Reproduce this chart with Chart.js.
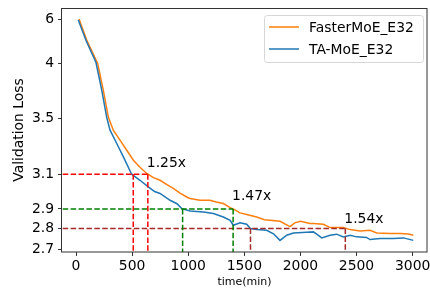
<!DOCTYPE html>
<html>
<head>
<meta charset="utf-8">
<script src="https://cdn.jsdelivr.net/npm/chart.js"></script>
<style>
  html, body { margin: 0; padding: 0; background: #fff; }
</style>
</head>
<body>
<canvas id="grafico" width="430" height="288"></canvas>
<script>
// datos
const fasterTime = [27, 95, 193, 243, 288, 332, 392, 452, 511, 570, 630, 690, 749, 810, 867, 930, 987, 1016, 1105, 1194, 1250, 1313, 1373, 1400, 1462, 1530, 1610, 1680, 1729, 1818, 1907, 1950, 2000, 2086, 2115, 2204, 2264, 2323, 2382, 2442, 2531, 2620, 2680, 2799, 2888, 2960, 3006];
const fasterLoss = [6.0, 5.05, 4.0, 3.756, 3.51, 3.414, 3.343, 3.271, 3.2, 3.15, 3.105, 3.08, 3.065, 3.04, 3.018, 2.99, 2.969, 2.96, 2.95, 2.95, 2.94, 2.931, 2.908, 2.9, 2.88, 2.87, 2.859, 2.845, 2.842, 2.837, 2.81, 2.829, 2.837, 2.826, 2.826, 2.822, 2.805, 2.806, 2.805, 2.795, 2.788, 2.792, 2.779, 2.776, 2.776, 2.774, 2.768];

const taTime = [20, 90, 178, 229, 273, 303, 363, 422, 496, 570, 644, 700, 749, 838, 900, 942, 1016, 1135, 1224, 1313, 1373, 1402, 1462, 1521, 1554, 1610, 1699, 1760, 1818, 1878, 1937, 2056, 2115, 2145, 2190, 2264, 2323, 2382, 2442, 2500, 2590, 2620, 2710, 2829, 2918, 3006];
const taLoss = [5.96, 5.02, 4.04, 3.756, 3.51, 3.414, 3.319, 3.224, 3.1, 3.065, 3.027, 3.0, 2.989, 2.95, 2.93, 2.902, 2.89, 2.885, 2.877, 2.859, 2.842, 2.817, 2.829, 2.822, 2.8, 2.795, 2.792, 2.775, 2.743, 2.768, 2.779, 2.782, 2.784, 2.773, 2.755, 2.768, 2.773, 2.76, 2.768, 2.76, 2.757, 2.747, 2.752, 2.752, 2.755, 2.743];

const yTicks = [2.7, 2.8, 2.9, 3.1, 3.5, 4, 6];
const xTicks = [0, 500, 1000, 1500, 2000, 2500, 3000];

// lineas de referencia (speedup)
const refLoss = [3.1, 2.9, 2.8];
const refFast = [510, 950, 1555];
const refSlow = [640, 1400, 2400];
const refText = ['1.25x', '1.47x', '1.54x'];
const refTextLoss = [3.15, 2.95, 2.83];

// estilos
const refColor = ['#ff0000', '#008000', '#a52a2a'];
const tickGap = [0, 20.7, 40.3, 75, 131, 185.7, 230]; // separacion de los ticks del eje y
const FONT = "'DejaVu Sans', sans-serif";

// eje y deformado (los ticks no estan igual separados)
function warp(v) {
    let i = 0;
    if (v >= yTicks[yTicks.length - 1]) i = yTicks.length - 2;
    else if (v > yTicks[0]) while (v > yTicks[i + 1]) i++;
    const t = (v - yTicks[i]) / (yTicks[i + 1] - yTicks[i]);
    return tickGap[i] + t * (tickGap[i + 1] - tickGap[i]);
}
function unwarp(u) {
    let i = 0;
    if (u >= tickGap[tickGap.length - 1]) i = tickGap.length - 2;
    else if (u > tickGap[0]) while (u > tickGap[i + 1]) i++;
    const t = (u - tickGap[i]) / (tickGap[i + 1] - tickGap[i]);
    return yTicks[i] + t * (yTicks[i + 1] - yTicks[i]);
}

class WarpScale extends Chart.LinearScale {
    buildTicks() { return yTicks.map(v => ({ value: v })); }
    getPixelForValue(v) { return super.getPixelForValue(warp(v)); }
    getValueForPixel(p) { return unwarp(super.getValueForPixel(p)); }
}
WarpScale.id = 'warp';
WarpScale.defaults = Chart.LinearScale.defaults;
Chart.register(WarpScale);

Chart.defaults.color = '#000';
Chart.defaults.font.family = FONT;

const pts = (xs, ys) => xs.map((x, i) => ({ x: x, y: ys[i] }));

const datasets = [
    { label: 'FasterMoE_E32', data: pts(fasterTime, fasterLoss), borderColor: '#ff7f0e', backgroundColor: '#ff7f0e', borderWidth: 1.5, order: 2 },
    { label: 'TA-MoE_E32', data: pts(taTime, taLoss), borderColor: '#1f77b4', backgroundColor: '#1f77b4', borderWidth: 1.5, order: 1 }
];
refLoss.forEach((lv, i) => {
    const st = { borderColor: refColor[i], borderWidth: 1.5, borderDash: [5.5, 2.4], order: 0, ref: true };
    datasets.push(Object.assign({ data: [{ x: -400, y: lv }, { x: refSlow[i], y: lv }] }, st));
    datasets.push(Object.assign({ data: [{ x: refFast[i], y: lv }, { x: refFast[i], y: 2.5 }] }, st));
    datasets.push(Object.assign({ data: [{ x: refSlow[i], y: lv }, { x: refSlow[i], y: 2.5 }] }, st));
});

// marco, textos y leyenda
const extras = {
    id: 'extras',
    afterDatasetsDraw(chart) {
        const ctx = chart.ctx, a = chart.chartArea;
        const xs = chart.scales.x, ys = chart.scales.y;
        ctx.save();
        ctx.font = '13.9px ' + FONT;
        ctx.fillStyle = '#000';
        ctx.textBaseline = 'alphabetic';
        refText.forEach((t, i) => {
            ctx.fillText(t, xs.getPixelForValue(refSlow[i]) - 1, ys.getPixelForValue(refTextLoss[i]));
        });
        // marco
        ctx.strokeStyle = '#333';
        ctx.lineWidth = 1;
        ctx.strokeRect(Math.round(a.left) - 0.5, Math.round(a.top) + 0.5, Math.round(a.right - a.left) + 0.5, Math.round(a.bottom - a.top) - 0.5);
        // leyenda
        const lx = 264, ly = 15, lw = 159, lh = 47;
        ctx.beginPath();
        ctx.roundRect(lx + 0.5, ly + 0.5, lw, lh, 3);
        ctx.fillStyle = 'rgba(255,255,255,0.8)';
        ctx.fill();
        ctx.strokeStyle = '#d6d6d6';
        ctx.stroke();
        chart.data.datasets.filter(d => !d.ref).forEach((d, i) => {
            const y = 27 + i * 22;
            ctx.beginPath();
            ctx.moveTo(269, y);
            ctx.lineTo(299, y);
            ctx.strokeStyle = d.borderColor;
            ctx.lineWidth = 1.5;
            ctx.stroke();
            ctx.fillStyle = '#000';
            ctx.textBaseline = 'middle';
            ctx.fillText(d.label, 309, y + 1);
        });
        ctx.restore();
    }
};

new Chart(document.getElementById('grafico'), {
    type: 'line',
    data: { datasets: datasets },
    options: {
        responsive: false,
        animation: false,
        devicePixelRatio: 1,
        layout: { padding: { top: 8, right: 3, left: 0, bottom: 0 } },
        elements: { point: { radius: 0 }, line: { tension: 0 } },
        plugins: { legend: { display: false }, tooltip: { enabled: false } },
        scales: {
            x: {
                type: 'linear',
                min: -125,
                max: 3128,
                afterBuildTicks: s => { s.ticks = xTicks.map(v => ({ value: v })); },
                afterFit: s => { s.height = 36; s.paddingLeft = 0; s.paddingRight = 0; },
                grid: { drawOnChartArea: false, drawTicks: true, tickLength: 4, color: '#333' },
                border: { display: false },
                ticks: { font: { size: 13.9 }, padding: 2, maxRotation: 0, autoSkip: false, callback: v => String(v) },
                title: { display: true, text: 'time(min)', font: { size: 11, lineHeight: 1 }, padding: { top: 0, bottom: 0 } }
            },
            y: {
                type: 'warp',
                min: -2.7,
                max: 241,
                afterFit: s => { s.width = 62; s.paddingTop = 0; s.paddingBottom = 0; },
                grid: { drawOnChartArea: false, drawTicks: true, tickLength: 4, color: '#333' },
                border: { display: false },
                ticks: { font: { size: 13.9 }, padding: 4, autoSkip: false, callback: v => String(v) },
                title: { display: true, text: 'Validation Loss', font: { size: 13.9 }, padding: { top: 11, bottom: 0 } }
            }
        }
    },
    plugins: [extras]
});
</script>
</body>
</html>
